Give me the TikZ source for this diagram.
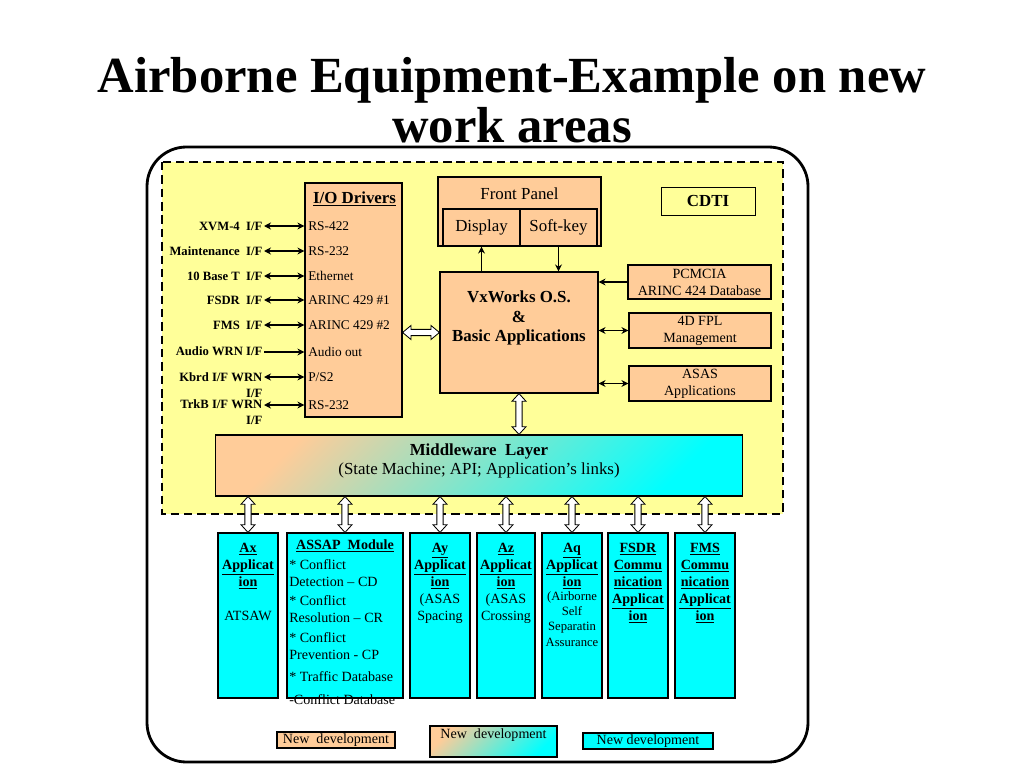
\documentclass[tikz,border=0pt]{standalone}
\usepackage{fontspec}
\setmainfont{Liberation Serif}
\usetikzlibrary{arrows.meta, positioning, calc}
\definecolor{cPeach}{RGB}{255,204,153}
\definecolor{cZone}{RGB}{255,255,153}
\definecolor{cCyan}{RGB}{0,255,255}
\newcommand{\ulb}[1]{\underline{\textbf{#1}}}
\tikzset{
	title/.style ={font=\bfseries\fontsize{36}{36}\selectfont, align=center},
	frame/.style ={draw=black, line width=2pt, rounded corners=28pt},
	zone/.style  ={draw=black, fill=cZone, line width=1.6pt, dash pattern=on 6pt off 3.5pt},
	blk/.style   ={rectangle, draw=black, line width=0.8pt, fill=cPeach, inner sep=1pt, align=center, font=\fontsize{12}{14}\selectfont},
	side/.style  ={blk, font=\fontsize{10}{12}\selectfont},
	app/.style   ={blk, fill=cCyan, minimum width=1.5cm, minimum height=4.125cm},
	grad/.style  ={blk, shading=axis, top color=cPeach, bottom color=cCyan, shading angle=45},
	txt/.style   ={inner sep=0pt, align=center, font=\fontsize{12}{14}\selectfont},
	apptxt/.style={anchor=north, inner sep=0pt, align=center, font=\fontsize{10}{12}\selectfont},
	drv/.style   ={anchor=west, inner sep=0pt, font=\fontsize{9.5}{11}\selectfont},
	ifl/.style   ={anchor=east, inner xsep=1pt, inner ysep=0pt, align=right, font=\bfseries\fontsize{9}{12}\selectfont},
	% connectors
	sig/.style   ={-{Stealth[length=5pt, width=5pt]}, line width=0.8pt},
	sig2/.style  ={{Stealth[length=5pt, width=5pt]}-{Stealth[length=5pt, width=5pt]}, line width=0.8pt},
	hollowv/.style={draw=black, fill=white, line width=0.6pt, to path={let \p1=(\tikztostart), \p2=(\tikztotarget) in
		(\x1,\y1) -- (\x1+5pt,\y1-5.5pt) -- (\x1+2.2pt,\y1-5.5pt) -- (\x1+2.2pt,\y2+5.5pt) -- (\x1+5pt,\y2+5.5pt) -- (\x1,\y2)
		-- (\x1-5pt,\y2+5.5pt) -- (\x1-2.2pt,\y2+5.5pt) -- (\x1-2.2pt,\y1-5.5pt) -- (\x1-5pt,\y1-5.5pt) -- cycle}},
	hollowh/.style={draw=black, fill=white, line width=0.6pt, to path={let \p1=(\tikztostart), \p2=(\tikztotarget) in
		(\x1,\y1) -- (\x1+6pt,\y1+5pt) -- (\x1+6pt,\y1+2.2pt) -- (\x2-6pt,\y1+2.2pt) -- (\x2-6pt,\y1+5pt) -- (\x2,\y1)
		-- (\x2-6pt,\y1-5pt) -- (\x2-6pt,\y1-2.2pt) -- (\x1+6pt,\y1-2.2pt) -- (\x1+6pt,\y1-5pt) -- cycle}},
}
\begin{document}
\begin{tikzpicture}[x=0.025cm, y=-0.025cm]
	\useasboundingbox (0,0) rectangle (1024,768);
	\node[title] (ttl) at (512,100) {Airborne Equipment-Example on new\\work areas};
	\draw[frame] (147,147) rectangle (808,762);
	\draw[zone] (162,162) rectangle (783,514);

	% I/O drivers
	\node[blk, minimum width=2.425cm, minimum height=5.85cm] (io) at (353.5,300) {};
	\node[txt] at (354.5,199) {\ulb{I/O Drivers}};
	\node[drv] (d1) at (308,226) {RS-422};
	\node[drv] (d2) at (308,251) {RS-232};
	\node[drv] (d3) at (308,276) {Ethernet};
	\node[drv] (d4) at (308,300) {ARINC 429 \#1};
	\node[drv] (d5) at (308,325) {ARINC 429 \#2};
	\node[drv] (d6) at (308,352) {Audio out};
	\node[drv] (d7) at (308,377) {P/S2};
	\node[drv] (d8) at (308,405) {RS-232};
	\node[ifl] (l1) at (264,226) {XVM-4\ \ I/F};
	\node[ifl] (l2) at (264,251) {Maintenance\ \ I/F};
	\node[ifl] (l3) at (264,276) {10 Base T\ \ I/F};
	\node[ifl] (l4) at (264,300) {FSDR\ \ I/F};
	\node[ifl] (l5) at (264,325) {FMS\ \ I/F};
	\node[ifl] (l6) at (264,351) {Audio WRN I/F};
	\node[ifl, anchor=north east] (l7) at (264,372) {Kbrd I/F WRN\\I/F};
	\node[ifl, anchor=north east] (l8) at (264,399) {TrkB I/F WRN\\I/F};
	\draw[sig2] (l1.east |- d1) -- (d1 -| io.west);
	\draw[sig2] (l2.east |- d2) -- (d2 -| io.west);
	\draw[sig2] (l3.east |- d3) -- (d3 -| io.west);
	\draw[sig2] (l4.east |- d4) -- (d4 -| io.west);
	\draw[sig2] (l5.east |- d5) -- (d5 -| io.west);
	\draw[sig] (l6.east |- d6) -- (d6 -| io.west);
	\draw[sig2] (l7.east |- d7) -- (d7 -| io.west);
	\draw[sig2] (l8.east |- d8) -- (d8 -| io.west);

	% front panel and OS
	\node[blk, minimum width=4.075cm, minimum height=1.725cm] (fp) at (519.5,211.5) {};
	\node[txt] at (519.5,194) {Front Panel};
	\node[blk, minimum width=1.925cm, minimum height=0.925cm] (disp) at (481.5,227.5) {Display};
	\node[blk, minimum width=1.925cm, minimum height=0.925cm] (soft) at (558.5,227.5) {Soft-key};
	\node[blk, fill=cZone, line width=0.6pt, font=\bfseries\fontsize{12}{14}\selectfont, minimum width=2.35cm, minimum height=0.7cm] (cdti) at (708,201) {CDTI};
	\node[blk, minimum width=3.95cm, minimum height=3.025cm] (vx) at (519,332.5) {};
	\node[txt, font=\bfseries\fontsize{12}{14}\selectfont] at (519,318) {VxWorks O.S.\\\&\\Basic Applications};
	\node[side, minimum width=3.575cm, minimum height=0.85cm] (pcm) at (699.5,282) {PCMCIA\\ARINC 424 Database};
	\node[side, minimum width=3.55cm, minimum height=0.875cm] (fpl) at (700,330.5) {4D FPL\\Management};
	\node[side, minimum width=3.55cm, minimum height=0.875cm] (asas) at (700,383.5) {ASAS\\Applications};
	\draw[sig] (disp.south |- vx.north) -- (disp.south);
	\draw[sig] (soft.south) -- (soft.south |- vx.north);
	\draw[sig] (pcm.west) -- (pcm.west -| vx.east);
	\draw[sig2] (fpl.west) -- (fpl.west -| vx.east);
	\draw[sig2] (asas.west) -- (asas.west -| vx.east);

	% middleware
	\node[grad, minimum width=13.15cm, minimum height=1.525cm] (mw) at (479,465.5) {};
	\node[txt, font=\fontsize{12}{13.5}\selectfont] at (479,460.5) {\textbf{Middleware\ \ Layer}\\(State Machine; API; Application’s links)};
	\draw[hollowh] (io.east |- vx.west) to (vx.west);
	\draw[hollowv] (vx.south) to (vx.south |- mw.north);

	% applications
	\node[app] (ax) at (248,615.5) {};
	\node[app, minimum width=2.9cm] (assap) at (345,615.5) {};
	\node[app] (ay) at (440,615.5) {};
	\node[app, minimum width=1.45cm] (az) at (506,615.5) {};
	\node[app] (aq) at (572,615.5) {};
	\node[app] (fsdr) at (638,615.5) {};
	\node[app] (fms) at (705,615.5) {};
	\node[apptxt] at (248,543) {\ulb{Ax}\\\ulb{Applicat}\\\ulb{ion}\\[12pt]ATSAW};
	\node[apptxt] at (345,539.5) {\ulb{ASSAP\ \ Module}};
	\node[apptxt, anchor=north west, align=left] at (289,559) {* Conflict\\Detection -- CD\\[2pt]* Conflict\\Resolution -- CR\\[2pt]* Conflict\\Prevention - CP\\[4pt]* Traffic Database\\[4pt]-Conflict Database};
	\node[apptxt] at (440,543) {\ulb{Ay}\\\ulb{Applicat}\\\ulb{ion}\\(ASAS\\Spacing};
	\node[apptxt] at (506,543) {\ulb{Az}\\\ulb{Applicat}\\\ulb{ion}\\(ASAS\\Crossing};
	\node[apptxt] at (572,543) {\ulb{Aq}\\\ulb{Applicat}\\\ulb{ion}};
	\node[apptxt, font=\fontsize{9}{10.9}\selectfont] at (572,591) {(Airborne\\Self\\Separatin\\Assurance};
	\node[apptxt] at (638,543) {\ulb{FSDR}\\\ulb{Commu}\\\ulb{nication}\\\ulb{Applicat}\\\ulb{ion}};
	\node[apptxt] at (705,543) {\ulb{FMS}\\\ulb{Commu}\\\ulb{nication}\\\ulb{Applicat}\\\ulb{ion}};
	\draw[hollowv] (ax.north |- mw.south) to (ax.north);
	\draw[hollowv] (assap.north |- mw.south) to (assap.north);
	\draw[hollowv] (ay.north |- mw.south) to (ay.north);
	\draw[hollowv] (az.north |- mw.south) to (az.north);
	\draw[hollowv] (aq.north |- mw.south) to (aq.north);
	\draw[hollowv] (fsdr.north |- mw.south) to (fsdr.north);
	\draw[hollowv] (fms.north |- mw.south) to (fms.north);

	% legend
	\node[side, minimum width=2.95cm, minimum height=0.4cm] (lg1) at (336,740) {New\ \ development};
	\node[grad, minimum width=3.175cm, minimum height=0.775cm] (lg2) at (493.5,741.5) {};
	\node[txt, font=\fontsize{10}{12}\selectfont] at (493.5,735) {New\ \ development};
	\node[side, fill=cCyan, minimum width=3.25cm, minimum height=0.4cm] (lg3) at (648,741) {New development};
\end{tikzpicture}
\end{document}
